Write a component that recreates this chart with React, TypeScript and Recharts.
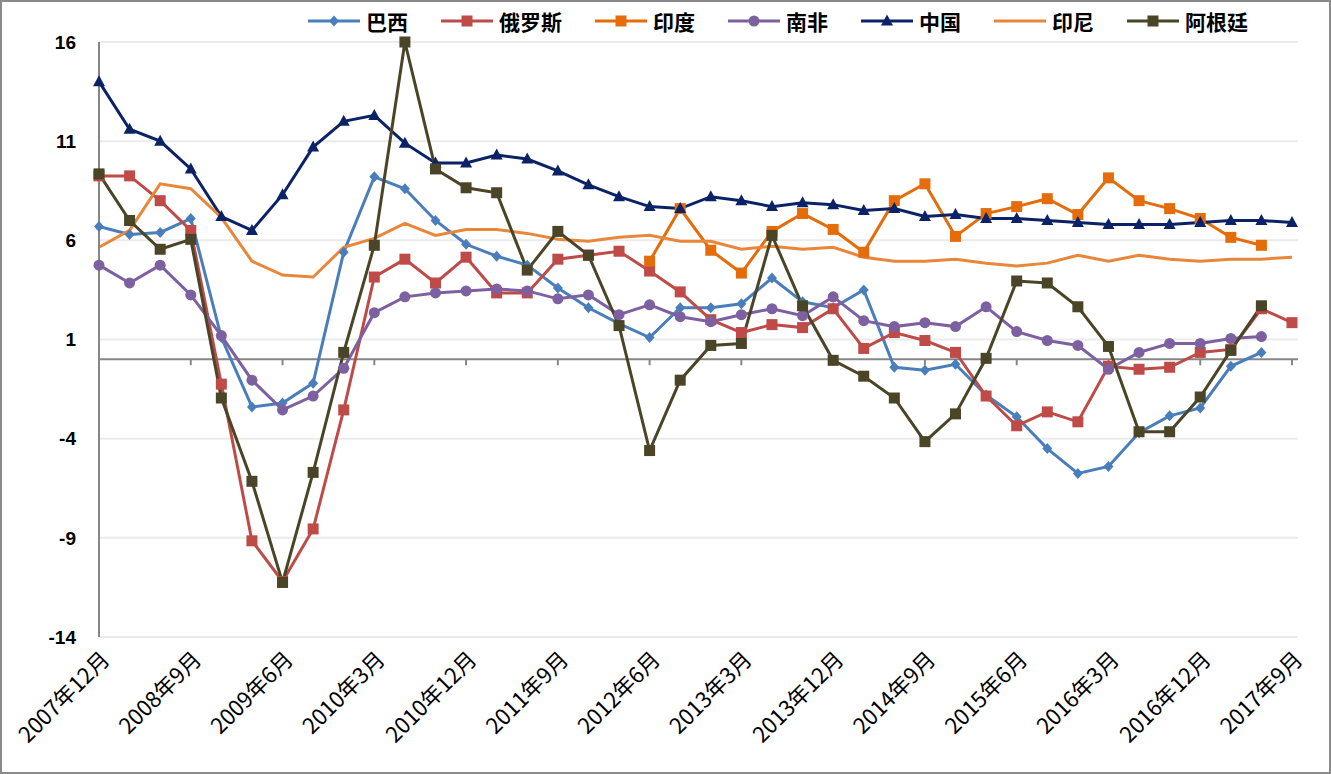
import React from 'react';
import { LineChart, Line, XAxis, YAxis, CartesianGrid, ReferenceLine } from 'recharts';

const quarters = [
  '2007年12月', '2008年3月', '2008年6月', '2008年9月', '2008年12月',
  '2009年3月', '2009年6月', '2009年9月', '2009年12月',
  '2010年3月', '2010年6月', '2010年9月', '2010年12月',
  '2011年3月', '2011年6月', '2011年9月', '2011年12月',
  '2012年3月', '2012年6月', '2012年9月', '2012年12月',
  '2013年3月', '2013年6月', '2013年9月', '2013年12月',
  '2014年3月', '2014年6月', '2014年9月', '2014年12月',
  '2015年3月', '2015年6月', '2015年9月', '2015年12月',
  '2016年3月', '2016年6月', '2016年9月', '2016年12月',
  '2017年3月', '2017年6月', '2017年9月',
];

const brazil = [6.7, 6.3, 6.4, 7.1, 1.1, -2.4, -2.2, -1.2, 5.4, 9.2, 8.6, 7.0, 5.8, 5.2, 4.75, 3.6, 2.6, 1.8, 1.1, 2.6, 2.6, 2.8, 4.1, 2.9, 2.6, 3.5, -0.4, -0.55, -0.25, -1.8, -2.9, -4.5, -5.75, -5.4, -3.7, -2.85, -2.45, -0.35, 0.35, null];
const russia = [9.25, 9.25, 8.0, 6.5, -1.25, -9.15, -11.2, -8.55, -2.55, 4.15, 5.05, 3.85, 5.15, 3.35, 3.35, 5.05, 5.25, 5.45, 4.45, 3.4, 2.0, 1.35, 1.75, 1.6, 2.55, 0.55, 1.35, 0.95, 0.35, -1.85, -3.35, -2.65, -3.15, -0.35, -0.5, -0.4, 0.35, 0.5, 2.55, 1.85];
const india = [null, null, null, null, null, null, null, null, null, null, null, null, null, null, null, null, null, null, 4.95, 7.6, 5.5, 4.35, 6.45, 7.35, 6.55, 5.4, 8.0, 8.85, 6.2, 7.35, 7.7, 8.1, 7.3, 9.15, 8.0, 7.6, 7.1, 6.15, 5.75, null];
const southAfrica = [4.75, 3.85, 4.75, 3.25, 1.2, -1.05, -2.55, -1.85, -0.45, 2.35, 3.15, 3.35, 3.45, 3.55, 3.45, 3.05, 3.25, 2.25, 2.75, 2.15, 1.9, 2.25, 2.55, 2.2, 3.15, 1.95, 1.65, 1.85, 1.65, 2.65, 1.4, 0.95, 0.7, -0.5, 0.35, 0.8, 0.8, 1.05, 1.15, null];
const china = [14.0, 11.6, 11.0, 9.6, 7.2, 6.5, 8.3, 10.7, 12.0, 12.3, 10.9, 9.9, 9.9, 10.3, 10.1, 9.5, 8.8, 8.2, 7.7, 7.6, 8.2, 8.0, 7.7, 7.9, 7.8, 7.5, 7.6, 7.2, 7.3, 7.1, 7.1, 7.0, 6.9, 6.8, 6.8, 6.8, 6.9, 7.0, 7.0, 6.9];
const indonesia = [5.65, 6.5, 8.85, 8.6, 7.15, 4.95, 4.25, 4.15, 5.65, 6.1, 6.85, 6.25, 6.55, 6.55, 6.35, 6.05, 5.95, 6.15, 6.25, 5.95, 5.95, 5.55, 5.7, 5.55, 5.65, 5.15, 4.95, 4.95, 5.05, 4.85, 4.7, 4.85, 5.25, 4.95, 5.25, 5.05, 4.95, 5.05, 5.05, 5.15];
const argentina = [9.35, 7.0, 5.55, 6.05, -1.95, -6.15, -11.25, -5.7, 0.35, 5.75, 16.0, 9.6, 8.65, 8.4, 4.5, 6.45, 5.25, 1.7, -4.6, -1.05, 0.7, 0.8, 6.25, 2.7, -0.05, -0.85, -1.95, -4.15, -2.75, 0.05, 3.95, 3.85, 2.65, 0.65, -3.65, -3.65, -1.9, 0.45, 2.7, null];

const yTicks = [-14, -9, -4, 1, 6, 11, 16];

const series = [
  { key: 'brazil', name: '巴西', values: brazil, color: '#4A7EBB', shape: 'diamond' },
  { key: 'russia', name: '俄罗斯', values: russia, color: '#BE4B48', shape: 'square' },
  { key: 'india', name: '印度', values: india, color: '#E46C0A', shape: 'square' },
  { key: 'southAfrica', name: '南非', values: southAfrica, color: '#7D60A0', shape: 'circle' },
  { key: 'china', name: '中国', values: china, color: '#0B2366', shape: 'triangle' },
  { key: 'indonesia', name: '印尼', values: indonesia, color: '#E8873A', shape: 'none' },
  { key: 'argentina', name: '阿根廷', values: argentina, color: '#4A4527', shape: 'square' },
];

const data = quarters.map((q, i) => {
  const row: any = { q };
  series.forEach(s => { row[s.key] = s.values[i]; });
  return row;
});

// tick marks on the zero line, every third quarter
const zeroTicks = quarters.filter((_, i) => i > 0 && i % 3 === 0);

const Marker = ({ cx, cy, shape, color }: any) => {
  if (shape === 'square') return <rect x={cx - 5.5} y={cy - 5.5} width={11} height={11} fill={color} />;
  if (shape === 'diamond') return <polygon points={`${cx},${cy - 5.5} ${cx + 5},${cy} ${cx},${cy + 5.5} ${cx - 5},${cy}`} fill={color} />;
  if (shape === 'circle') return <circle cx={cx} cy={cy} r={5.5} fill={color} />;
  if (shape === 'triangle') return <polygon points={`${cx},${cy - 6.5} ${cx + 6},${cy + 4.5} ${cx - 6},${cy + 4.5}`} fill={color} />;
  return null;
};

const makeDot = (shape: string, color: string) => (props: any) => {
  const { cx, cy, index } = props;
  if (cx == null || cy == null || props.value == null) return <g key={index} />;
  return <g key={index}><Marker cx={cx} cy={cy} shape={shape} color={color} /></g>;
};

const XTick = ({ x, y, payload }: any) => (
  <text
    x={0}
    y={0}
    transform={`translate(${x + 12},${y + 22}) rotate(-45)`}
    textAnchor="end"
    fontSize={22}
    fontFamily="'Noto Sans CJK SC', sans-serif"
    fill="#000"
  >
    {payload.value}
  </text>
);

const LegendBar = () => (
  <div style={{ position: 'absolute', left: 308, top: 6, display: 'flex', alignItems: 'center', fontFamily: "'Noto Sans CJK SC', sans-serif", fontSize: 21, fontWeight: 700, color: '#000' }}>
    {series.map(s => (
      <div key={s.key} style={{ display: 'flex', alignItems: 'center', marginRight: 33 }}>
        <svg width={52} height={20} style={{ marginRight: 6 }}>
          <line x1={0} y1={10} x2={52} y2={10} stroke={s.color} strokeWidth={3} />
          <Marker cx={26} cy={10} shape={s.shape} color={s.color} />
        </svg>
        <span>{s.name}</span>
      </div>
    ))}
  </div>
);

export default function App() {
  return (
    <div style={{ position: 'absolute', left: 0, top: 0, width: 1331, height: 774, background: '#fff' }}>
      <LineChart width={1331} height={774} data={data} margin={{ top: 42, right: 33, bottom: 0, left: 0 }}>
        <CartesianGrid vertical={false} stroke="#EBEBEB" strokeWidth={2} />
        <XAxis
          dataKey="q"
          interval={2}
          axisLine={false}
          tickLine={false}
          tickSize={0}
          height={137}
          padding={{ left: 0, right: 6 }}
          tick={<XTick />}
        />
        <YAxis
          domain={[-14, 16]}
          ticks={yTicks}
          width={99}
          axisLine={{ stroke: '#868686', strokeWidth: 2 }}
          tickLine={false}
          tickSize={0}
          tickMargin={23}
          tick={{ fill: '#000', fontSize: 19, fontWeight: 700, fontFamily: "'Liberation Sans Narrow', 'Liberation Sans', Arial, sans-serif" }}
        />
        <ReferenceLine y={0} stroke="#868686" strokeWidth={2} />
        {zeroTicks.map(c => (
          <ReferenceLine key={c} segment={[{ x: c, y: 0 }, { x: c, y: -0.3 }]} stroke="#868686" strokeWidth={2} />
        ))}
        {series.map(s => (
          <Line
            key={s.key}
            type="linear"
            dataKey={s.key}
            name={s.name}
            stroke={s.color}
            strokeWidth={3}
            dot={s.shape === 'none' ? false : makeDot(s.shape, s.color)}
            activeDot={false}
            isAnimationActive={false}
          />
        ))}
      </LineChart>
      <LegendBar />
      <div style={{ position: 'absolute', left: 0, top: 0, width: 1331, height: 774, boxSizing: 'border-box', border: '2px solid #8A8A8A', pointerEvents: 'none' }} />
    </div>
  );
}
